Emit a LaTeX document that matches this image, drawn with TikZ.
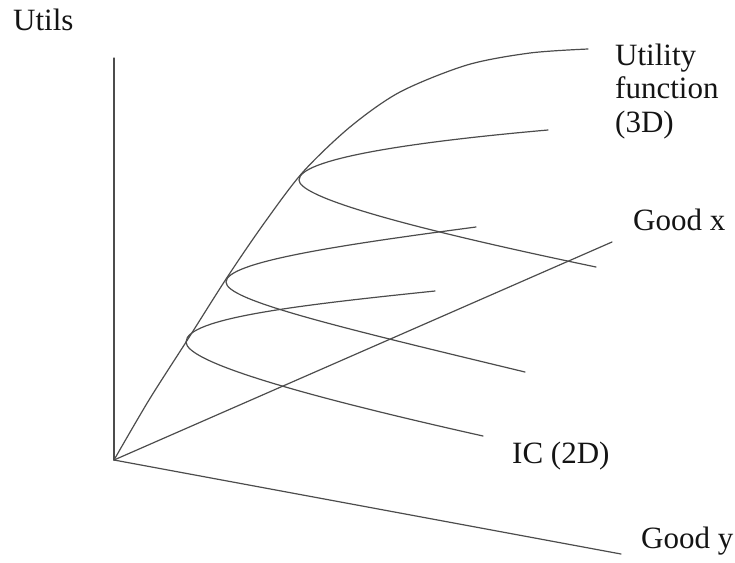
\documentclass[tikz,border=0pt]{standalone}
\usepackage{fontspec}
\setmainfont{Liberation Serif}
\begin{document}
\begin{tikzpicture}[x=1pt,y=-1pt,
  curve/.style={line width=1.2pt, draw=black!70, line cap=round},
  lbl/.style={anchor=base west, inner sep=0pt, font=\fontsize{31}{33.5}\selectfont, text=black!92}]
\useasboundingbox (0,0) rectangle (735,562);
% axes
\coordinate (O) at (114,460);
\coordinate (U) at (114,58);
\coordinate (X) at (612,242);
\coordinate (Y) at (621,554);
\draw[curve] (O) -- (U);
\draw[curve] (O) -- (X);
\draw[curve] (O) -- (Y);
% utility function
\draw[curve] plot[smooth, tension=0.5] coordinates {(114,460) (149,400) (188,339) (228,276) (265,222) (303,172) (350,127) (400,92) (467,65) (530,53) (588,49)};
% indifference curves
\draw[curve] (435,291) .. controls (300,305) and (186,318) .. (186,342) .. controls (186,362) and (300,395) .. (483,436);
\draw[curve] (476,227) .. controls (340,245) and (226,262) .. (226,282) .. controls (226,300) and (330,325) .. (525,372);
\draw[curve] (548,130) .. controls (400,143) and (299,160) .. (299,180) .. controls (299,195) and (380,222) .. (596,267);
% labels
\node[lbl] (utils) at (13,30) {Utils};
\node[lbl] (uf1) at (615,65) {Utility};
\node[lbl] (uf2) at (615,98) {function};
\node[lbl] (uf3) at (615,132) {(3D)};
\node[lbl] (gx) at (633,230) {Good x};
\node[lbl] (ic) at (512,463) {IC (2D)};
\node[lbl] (gy) at (641,548) {Good y};
\end{tikzpicture}
\end{document}
